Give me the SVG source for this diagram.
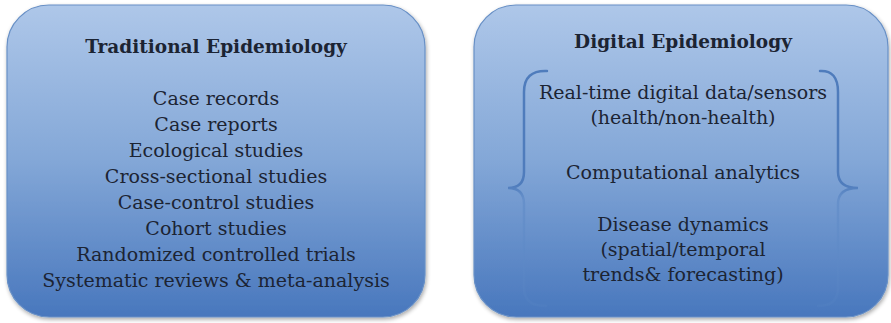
<svg xmlns="http://www.w3.org/2000/svg" width="891" height="323" viewBox="0 0 891 323">
<defs>
<linearGradient id="bg" x1="0" y1="0" x2="0" y2="1">
<stop offset="0" stop-color="#aec7e9"/>
<stop offset="0.5" stop-color="#83a7d7"/>
<stop offset="1" stop-color="#4877bd"/>
</linearGradient>
<linearGradient id="br" gradientUnits="userSpaceOnUse" x1="0" y1="60" x2="0" y2="310">
<stop offset="0" stop-color="#4f7cbc"/>
<stop offset="0.5" stop-color="#4f7cbc"/>
<stop offset="0.56" stop-color="#5d89c6" stop-opacity="0.6"/>
<stop offset="1" stop-color="#5d89c6" stop-opacity="0.15"/>
</linearGradient>
<filter id="sh" x="-5%" y="-5%" width="110%" height="110%">
<feGaussianBlur in="SourceAlpha" stdDeviation="2"/>
<feOffset dx="1" dy="2"/>
<feComponentTransfer><feFuncA type="linear" slope="0.35"/></feComponentTransfer>
<feMerge><feMergeNode/><feMergeNode in="SourceGraphic"/></feMerge>
</filter>
</defs>
<style>
.box{fill:url(#bg);stroke:#6890c6;stroke-width:1.2;filter:url(#sh)}
text{font-family:"DejaVu Serif","Liberation Serif",serif;fill:#1c2433;text-anchor:middle}
.t{font-weight:bold;font-size:18.5px}
.b{font-size:19px}
.brace{fill:none;stroke:url(#br);stroke-width:2.5;stroke-linecap:round}
</style>
<g id="traditional">
<rect class="box" x="7" y="5" width="418" height="312" rx="42" ry="42"/>
<text class="t" x="216" y="53">Traditional Epidemiology</text>
<text class="b" x="216" y="105">Case records</text>
<text class="b" x="216" y="131">Case reports</text>
<text class="b" x="216" y="157">Ecological studies</text>
<text class="b" x="216" y="183">Cross-sectional studies</text>
<text class="b" x="216" y="209">Case-control studies</text>
<text class="b" x="216" y="235">Cohort studies</text>
<text class="b" x="216" y="261">Randomized controlled trials</text>
<text class="b" x="216" y="287">Systematic reviews &amp; meta-analysis</text>
</g>
<g id="digital">
<rect class="box" x="474" y="5" width="414" height="312" rx="42" ry="42"/>
<text class="t" x="683" y="48">Digital Epidemiology</text>
<path class="brace" d="M547,71 Q524,70 524,92 L524,172 Q524,188 508,188 Q524,188 524,204 L524,288 Q524,306 546,306"/>
<path class="brace" d="M820,71 Q838,70 838,92 L838,172 Q838,188 858,188 Q838,188 838,204 L838,288 Q838,306 818,306"/>
<text class="b" x="683" y="99">Real-time digital data/sensors</text>
<text class="b" x="683" y="124">(health/non-health)</text>
<text class="b" x="683" y="179">Computational analytics</text>
<text class="b" x="683" y="231">Disease dynamics</text>
<text class="b" x="683" y="256">(spatial/temporal</text>
<text class="b" x="683" y="281">trends&amp; forecasting)</text>
</g>
</svg>
